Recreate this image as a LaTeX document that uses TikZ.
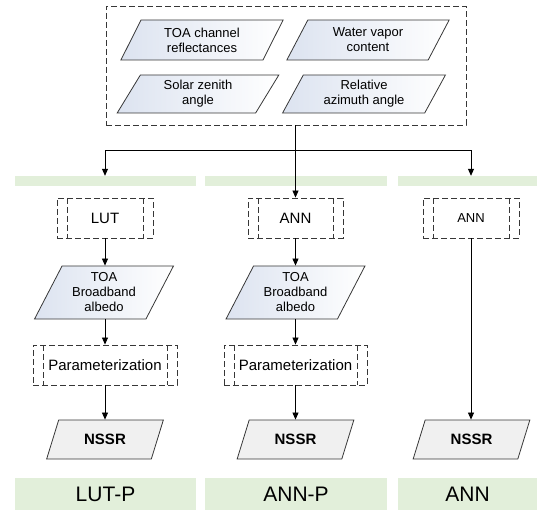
\documentclass[tikz,border=0pt]{standalone}
\usepackage{fontspec}
\setmainfont{Liberation Sans}
\usetikzlibrary{shapes.geometric,arrows.meta}
\definecolor{barGreen}{RGB}{226,239,218}
\definecolor{paraShade}{RGB}{220,227,240}
\definecolor{lineGrey}{RGB}{55,55,55}
\tikzset{
  arr/.style={-{Triangle[width=6pt,length=7pt]}, line width=0.8pt},
  dashbox/.style={draw=lineGrey, line width=0.9pt, dash pattern=on 6pt off 3pt},
  procbox/.style={dashbox, minimum height=40pt, inner sep=0pt,
    font=\fontsize{15}{17}\selectfont,
    path picture={
      \draw[dashbox] ([xshift=10pt]path picture bounding box.north west)
        -- ([xshift=10pt]path picture bounding box.south west);
      \draw[dashbox] ([xshift=-10pt]path picture bounding box.north east)
        -- ([xshift=-10pt]path picture bounding box.south east);
    }},
  para/.style={trapezium, trapezium left angle=63, trapezium right angle=117,
    trapezium stretches=true, draw=lineGrey, line width=0.8pt, inner sep=0pt,
    align=center},
  inpara/.style={para, left color=paraShade, middle color=white, right color=white,
    font=\fontsize{13}{15}\selectfont},
  outpara/.style={para, fill=gray!12, minimum width=117pt, minimum height=39pt,
    font=\fontsize{15}{17}\selectfont\bfseries},
  bar/.style={fill=barGreen, inner sep=0pt, minimum height=10pt},
  tagbar/.style={fill=barGreen, inner sep=0pt, minimum height=32pt,
    font=\fontsize{21}{23}\selectfont}
}

\begin{document}
\begin{tikzpicture}[x=1pt,y=-1pt]
  \useasboundingbox (0,0) rectangle (540,510);
  % inputs
  \node[dashbox, minimum width=360pt, minimum height=119pt] (inbox) at (286,65.5) {};
  \node[inpara, minimum width=163pt, minimum height=40pt] (toarefl) at (202,40)
    {TOA channel\\reflectances};
  \node[inpara, minimum width=163pt, minimum height=40pt] (wvc) at (368,40)
    {Water vapor\\content};
  \node[inpara, minimum width=163pt, minimum height=38pt] (sza) at (198,94)
    {Solar zenith\\angle};
  \node[inpara, minimum width=163pt, minimum height=38pt] (raa) at (364,94)
    {Relative\\azimuth angle};
  \coordinate (split) at (295.5,150);

  % method bars
  \node[bar, minimum width=181pt] (bar1) at (105.5,181) {};
  \node[bar, minimum width=182pt] (bar2) at (296,181) {};
  \node[bar, minimum width=139pt] (bar3) at (467.5,181) {};
  \node[tagbar, minimum width=181pt] (tag1) at (105.5,494) {LUT-P};
  \node[tagbar, minimum width=182pt] (tag2) at (296,494) {ANN-P};
  \node[tagbar, minimum width=139pt] (tag3) at (467.5,494) {ANN};

  % LUT-P
  \node[procbox, minimum width=96pt] (lut) at (105,218) {LUT};
  \node[inpara, minimum width=139pt, minimum height=53pt,
    trapezium left angle=62, trapezium right angle=118] (toa1) at (104,292.5)
    {TOA\\Broadband\\albedo};
  \node[procbox, minimum width=144pt] (par1) at (105,365) {Parameterization};
  \node[outpara] (nssr1) at (105,439.5) {NSSR};

  % ANN-P
  \node[procbox, minimum width=95pt] (ann2) at (295.5,218) {ANN};
  \node[inpara, minimum width=139pt, minimum height=53pt,
    trapezium left angle=62, trapezium right angle=118] (toa2) at (295.5,292.5)
    {TOA\\Broadband\\albedo};
  \node[procbox, minimum width=143pt] (par2) at (295.5,365) {Parameterization};
  \node[outpara] (nssr2) at (295.5,439.5) {NSSR};

  % ANN
  \node[procbox, minimum width=96pt, font=\fontsize{13}{15}\selectfont] (ann3) at (471,218) {ANN};
  \node[outpara] (nssr3) at (471.5,439.5) {NSSR};

  \draw[arr] (inbox.south -| ann2.north) -- (ann2.north);
  \draw[arr] (split) -| (bar1.north -| lut.north);
  \draw[arr] (split) -| (bar3.north -| ann3.north);
  \draw[arr] (lut.south) -- (lut.south |- toa1.north);
  \draw[arr] (toa1.south -| par1.north) -- (par1.north);
  \draw[arr] (par1.south) -- (par1.south |- nssr1.north);
  \draw[arr] (ann2.south) -- (ann2.south |- toa2.north);
  \draw[arr] (toa2.south -| par2.north) -- (par2.north);
  \draw[arr] (par2.south) -- (par2.south |- nssr2.north);
  \draw[arr] (ann3.south) -- (ann3.south |- nssr3.north);
\end{tikzpicture}
\end{document}
